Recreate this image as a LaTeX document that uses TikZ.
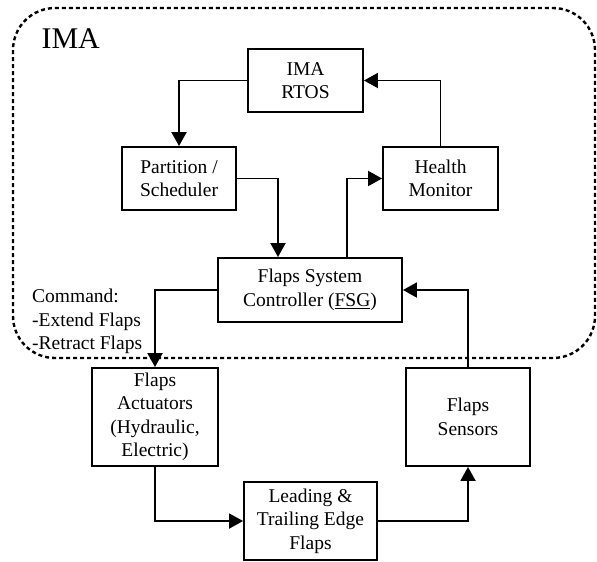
\documentclass[tikz,border=0pt]{standalone}
\usepackage{fontspec}
\setmainfont{Liberation Serif}
\usetikzlibrary{arrows.meta,positioning,calc}

\tikzset{
  blockbox/.style={draw,line width=1.9pt,inner sep=0pt,align=center,font=\fontsize{19.5}{23.5}\selectfont},
  flow/.style={line width=1.9pt,-{Triangle[length=14pt,width=15pt]}},
  imaframe/.style={line width=2.4pt,dash pattern=on 4pt off 3pt,rounded corners=42pt}
}

\begin{document}
\begin{tikzpicture}[x=1pt,y=-1pt]
  \useasboundingbox (0,0) rectangle (597,562);

  % IMA frame
  \draw[imaframe] (13,8) rectangle (595,358);
  \node[font=\fontsize{30}{34}\selectfont,anchor=base west] (ima) at (38,48) {IMA};

  % blocks inside the IMA
  \node[blockbox,minimum width=115pt,minimum height=63pt] (rtos) at (305.5,80.5) {IMA\\RTOS};
  \node[blockbox,minimum width=114pt,minimum height=63pt] (part) at (179,178.5) {Partition /\\Scheduler};
  \node[blockbox,minimum width=115pt,minimum height=63pt] (health) at (440.5,178.5) {Health\\Monitor};
  \node[blockbox,minimum width=184pt,minimum height=64pt] (fsc) at (310,290) {Flaps System\\Controller (\underline{FSG})};

  % blocks outside
  \node[blockbox,minimum width=126pt,minimum height=98pt] (act) at (155,417) {Flaps\\Actuators\\(Hydraulic,\\Electric)};
  \node[blockbox,minimum width=124pt,minimum height=98pt] (sens) at (468,417) {Flaps\\Sensors};
  \node[blockbox,minimum width=133pt,minimum height=78pt] (lead) at (310.5,521) {Leading \&\\Trailing Edge\\Flaps};

  % command label
  \node[font=\fontsize{19.5}{23.5}\selectfont,align=left,anchor=north west,inner sep=0pt] (cmd) at (32,289)
    {Command:\\-Extend Flaps\\-Retract Flaps};

  % connectors
  \draw[flow] (rtos.west) -| (part.north);
  \draw[flow] (part.east) -| ([xshift=-32pt]fsc.north);
  \draw[flow] ([xshift=37pt]fsc.north) |- (health.west);
  \draw[flow] (health.north) |- (rtos.east);
  \draw[flow] (fsc.west) -| (act.north);
  \draw[flow] (sens.north) |- (fsc.east);
  \draw[flow] (act.south) |- (lead.west);
  \draw[flow] (lead.east) -| (sens.south);
\end{tikzpicture}
\end{document}
